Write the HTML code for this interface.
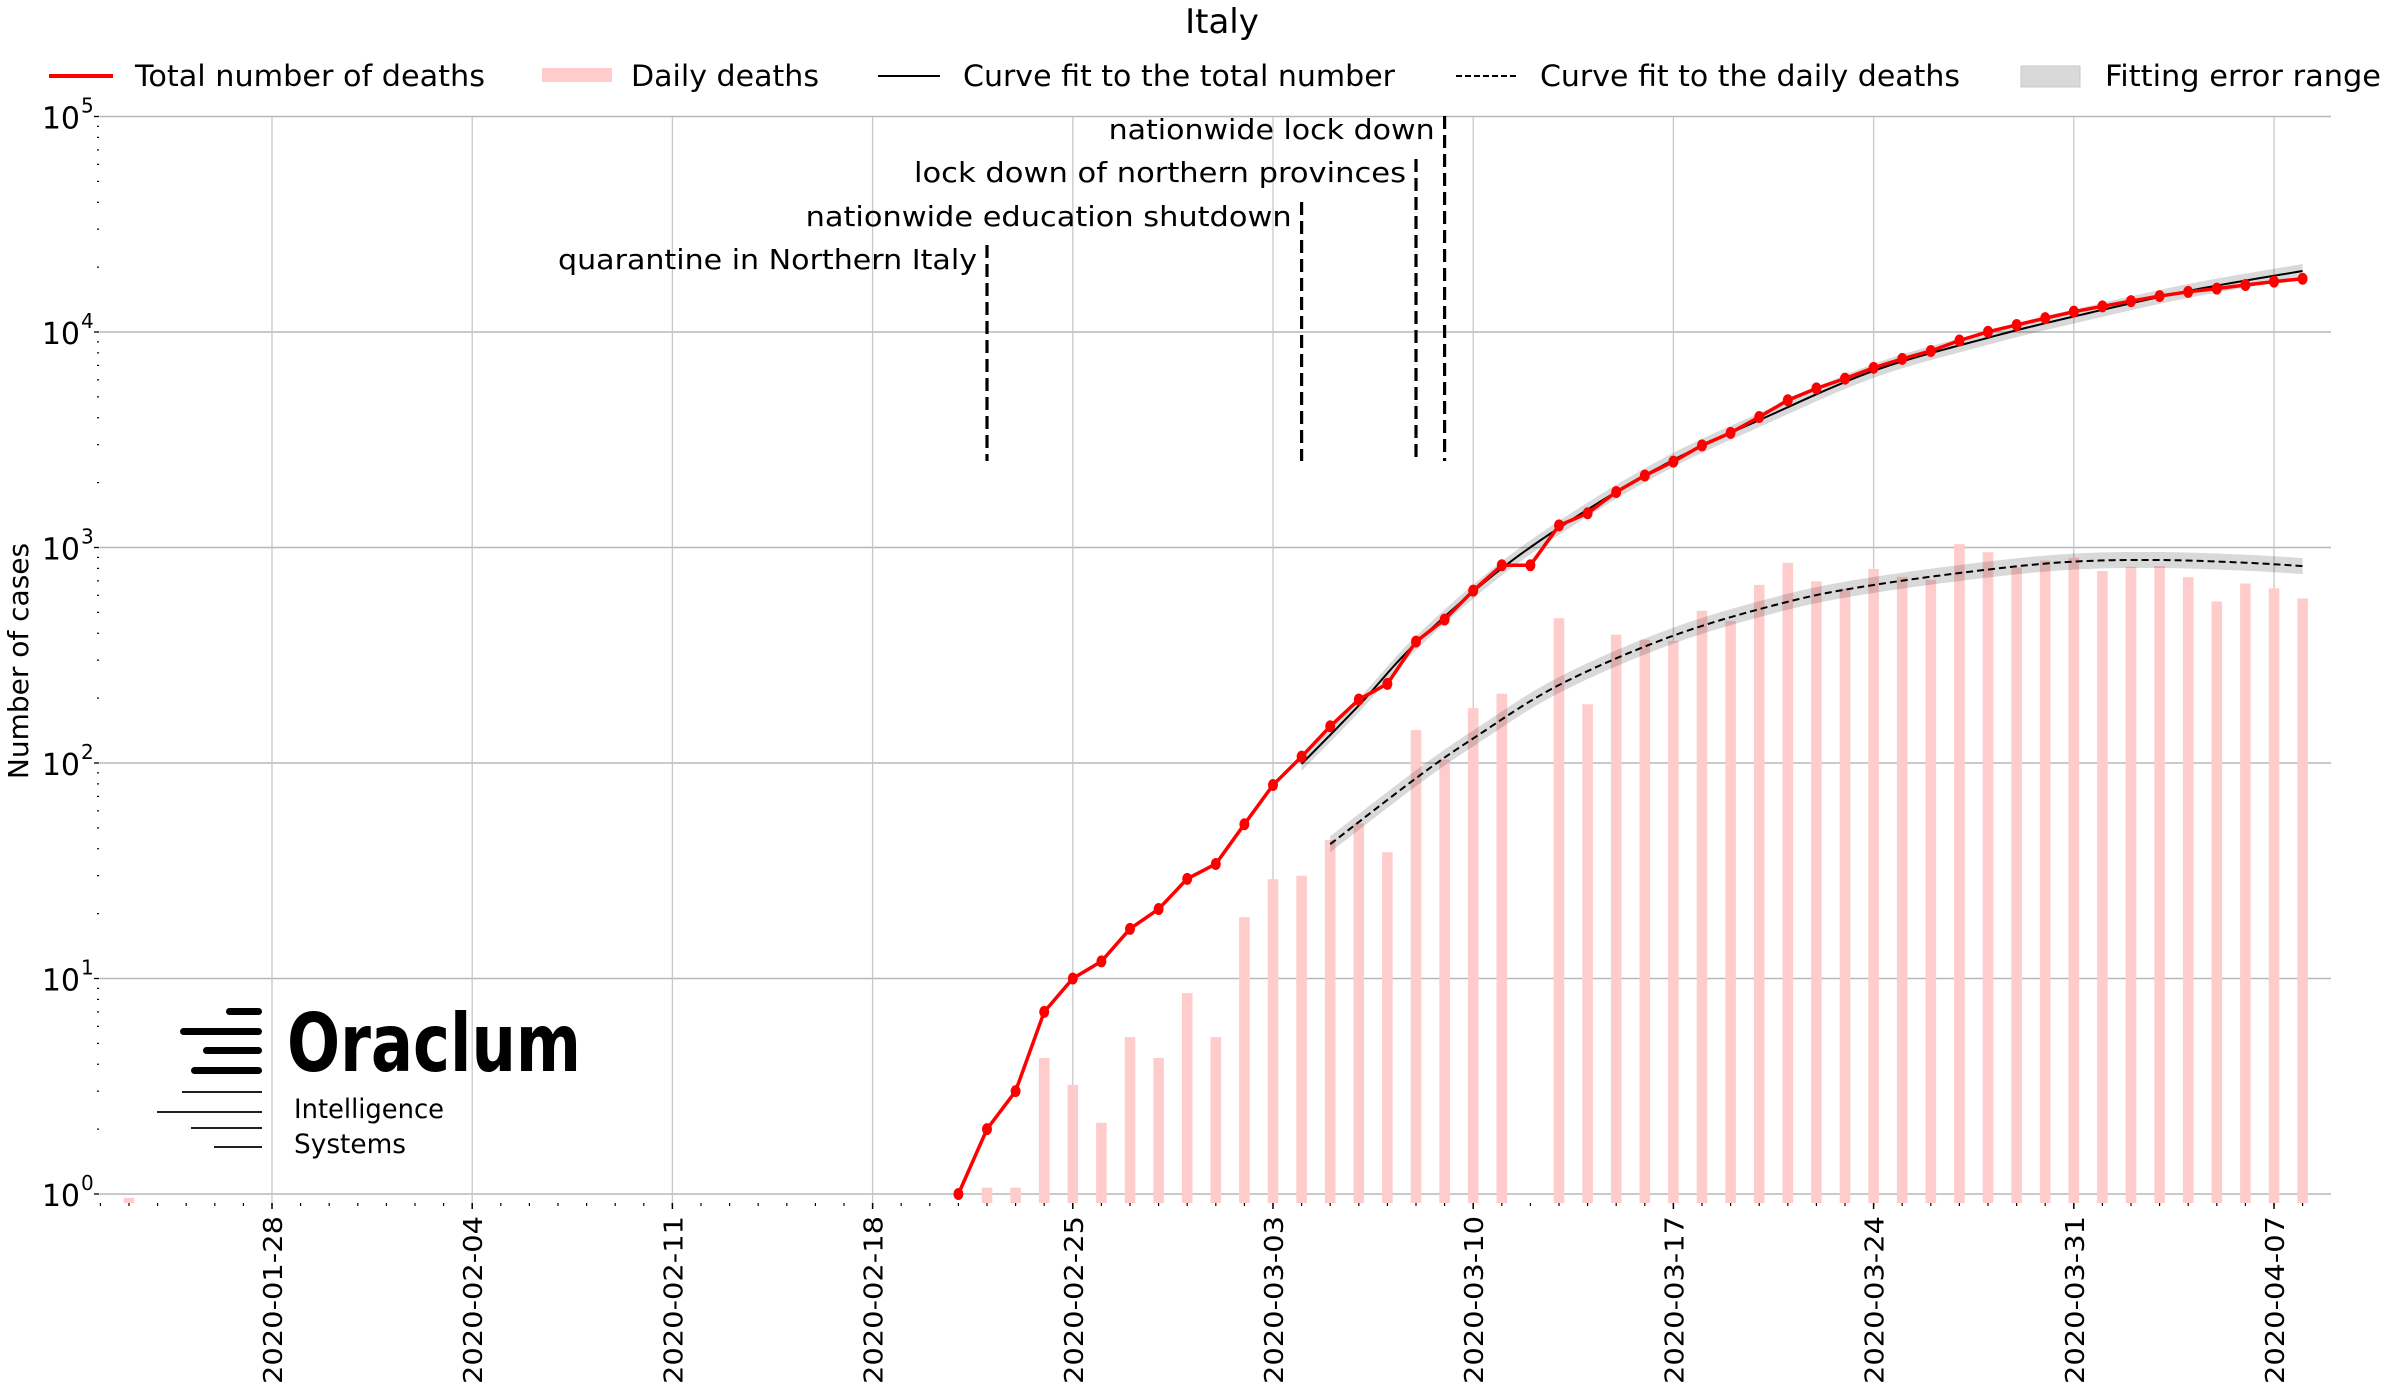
<!DOCTYPE html>
<html><head><meta charset="utf-8"><style>
html,body{margin:0;padding:0;background:#fff;}
svg{display:block;font-family:"DejaVu Sans","Liberation Sans",sans-serif;}
</style></head><body>
<svg id="s" width="2400" height="1392" xmlns="http://www.w3.org/2000/svg">
<text x="1222" y="33" font-size="34" text-anchor="middle">Italy</text>
<line x1="49" y1="76" x2="113" y2="76" stroke="#f00" stroke-width="4"/>
<text x="135" y="86" font-size="29" textLength="350" lengthAdjust="spacingAndGlyphs">Total number of deaths</text>
<rect x="542" y="68" width="70" height="14" fill="#ffcccc"/>
<text x="631" y="86" font-size="29" textLength="188" lengthAdjust="spacingAndGlyphs">Daily deaths</text>
<line x1="878" y1="76" x2="940" y2="76" stroke="#000" stroke-width="2"/>
<text x="963" y="86" font-size="29" textLength="432" lengthAdjust="spacingAndGlyphs">Curve fit to the total number</text>
<line x1="1456" y1="76" x2="1516" y2="76" stroke="#000" stroke-width="2" stroke-dasharray="6,3"/>
<text x="1540" y="86" font-size="29" textLength="420" lengthAdjust="spacingAndGlyphs">Curve fit to the daily deaths</text>
<rect x="2021" y="66" width="59" height="21" fill="#d9d9d9" stroke="#c8c8c8"/>
<text x="2105" y="86" font-size="29" textLength="276" lengthAdjust="spacingAndGlyphs">Fitting error range</text>
<g id="plot"></g>
<text transform="translate(28,661) rotate(-90)" font-size="28" text-anchor="middle">Number of cases</text>
<g id="logo">
<rect x="226" y="1008" width="36" height="7" rx="3.5" fill="#000"/>
<rect x="180" y="1028" width="82" height="7" rx="3.5" fill="#000"/>
<rect x="203" y="1047" width="59" height="7" rx="3.5" fill="#000"/>
<rect x="191" y="1067" width="71" height="7" rx="3.5" fill="#000"/>
<line x1="182" y1="1092" x2="262" y2="1092" stroke="#000" stroke-width="1.8"/>
<line x1="157" y1="1112" x2="262" y2="1112" stroke="#000" stroke-width="1.8"/>
<line x1="191" y1="1128" x2="262" y2="1128" stroke="#000" stroke-width="1.8"/>
<line x1="214" y1="1147" x2="262" y2="1147" stroke="#000" stroke-width="1.8"/>
<text x="287" y="1071" font-size="80" font-weight="bold" textLength="294" lengthAdjust="spacingAndGlyphs">Oraclum</text>
<text x="294" y="1118" font-size="27" textLength="150" lengthAdjust="spacingAndGlyphs">Intelligence</text>
<text x="294" y="1153" font-size="27" textLength="112" lengthAdjust="spacingAndGlyphs">Systems</text>
</g>
</svg>
<script>
(function(){
var g=document.getElementById("plot"),h="";
function X(d){return 272+28.6*d;}
function Y(v){return 1194-215.5*Math.log10(v);}
var L=99.5,R=2331,T=117,B=1203;
for(var e=0;e<=5;e++){var y=Y(Math.pow(10,e));h+='<line x1="'+L+'" y1="'+y+'" x2="'+R+'" y2="'+y+'" stroke="#b8b8b8" stroke-width="1.6"/>';}
var lab=["2020-01-28","2020-02-04","2020-02-11","2020-02-18","2020-02-25","2020-03-03","2020-03-10","2020-03-17","2020-03-24","2020-03-31","2020-04-07"];
for(var i=0;i<lab.length;i++){var x=X(7*i);h+='<line x1="'+x+'" y1="'+T+'" x2="'+x+'" y2="'+B+'" stroke="#c8c8c8" stroke-width="1.3"/>';
h+='<line x1="'+x+'" y1="'+B+'" x2="'+x+'" y2="'+(B+6)+'" stroke="#000" stroke-width="1.5"/>';
h+='<text transform="translate('+(x+10)+',1384) rotate(-90)" font-size="26" textLength="168" lengthAdjust="spacingAndGlyphs">'+lab[i]+'</text>';}
for(var d=-6;d<=72;d++){var x=X(d);if(x<L||x>R)continue;h+='<line x1="'+x+'" y1="'+B+'" x2="'+x+'" y2="'+(B+3)+'" stroke="#000" stroke-width="1.2"/>';}
for(var e=0;e<=5;e++){var y=Y(Math.pow(10,e));h+='<text x="80" y="'+(y+12)+'" font-size="30" text-anchor="end">10</text><text x="81" y="'+(y-4)+'" font-size="20">'+e+'</text>';
h+='<line x1="94" y1="'+y+'" x2="99" y2="'+y+'" stroke="#000" stroke-width="1.3"/>';
if(e<5)for(var k=2;k<10;k++){var yy=Y(k*Math.pow(10,e));h+='<line x1="97" y1="'+yy+'" x2="99" y2="'+yy+'" stroke="#000" stroke-width="1.2"/>';}}
var deaths=[1,2,3,7,10,12,17,21,29,34,52,79,107,148,197,233,366,463,631,827,827,1266,1441,1809,2158,2503,2978,3405,4032,4825,5476,6077,6820,7503,8165,9134,10023,10779,11591,12428,13155,13915,14681,15362,15887,16523,17127,17669];
function bar(d,v){var x=X(d)-5.3,y=Y(v);h+='<rect x="'+x+'" y="'+y+'" width="10.6" height="'+(B-y)+'" fill="#ffcccc"/>';}
bar(-5,0.96);
for(var i=1;i<deaths.length;i++){var v=deaths[i]-deaths[i-1];if(v>0)bar(24+i,v*1.07);}
function cr(pts){var out=[];for(var i=0;i<pts.length-1;i++){var p0=pts[Math.max(i-1,0)],p1=pts[i],p2=pts[i+1],p3=pts[Math.min(i+2,pts.length-1)];
for(var t=0;t<1;t+=0.05){var t2=t*t,t3=t2*t;var f=function(a,b,c,d){return 0.5*((2*b)+(-a+c)*t+(2*a-5*b+4*c-d)*t2+(-a+3*b-3*c+d)*t3);};
out.push([f(p0[0],p1[0],p2[0],p3[0]),f(p0[1],p1[1],p2[1],p3[1])]);}}out.push(pts[pts.length-1]);return out;}
function fit(ctrl,band,dash){var pts=ctrl.map(function(p){return [X(p[0]),Y(p[1])];});var c=cr(pts);
var up=c.map(function(p){return p[0]+","+(p[1]-band);}),dn=c.slice().reverse().map(function(p){return p[0]+","+(p[1]+band);});
h+='<polygon points="'+up.concat(dn).join(" ")+'" fill="#000" fill-opacity="0.15"/>';
h+='<polyline points="'+c.map(function(p){return p[0]+","+p[1];}).join(" ")+'" fill="none" stroke="#000" stroke-width="2"'+(dash?' stroke-dasharray="7,4"':'')+'/>';}
fit([[36,99],[38,185],[40,360],[43,800],[46,1500],[49,2550],[52,3900],[56,6600],[60,9400],[63,11800],[67,15500],[71,19200]],7,false);
fit([[37,42],[40,85],[42,130],[45,230],[49,390],[53,560],[56,670],[60,790],[63,860],[66,875],[69,850],[71,820]],8,true);
var rp=deaths.map(function(v,i){return X(24+i)+","+Y(v);});
h+='<polyline points="'+rp.join(" ")+'" fill="none" stroke="#f00" stroke-width="3.5"/>';
deaths.forEach(function(v,i){h+='<ellipse cx="'+X(24+i)+'" cy="'+Y(v)+'" rx="5" ry="6" fill="#f00"/>';});
var ev=[[25,245,"quarantine in Northern Italy",259],[36,202,"nationwide education shutdown",216],[40,159,"lock down of northern provinces",172],[41,116,"nationwide lock down",129]];
var tl=[419,486,492,326];
ev.forEach(function(e,i){var x=X(e[0]);h+='<line x1="'+x+'" y1="'+e[1]+'" x2="'+x+'" y2="461" stroke="#000" stroke-width="3.2" stroke-dasharray="13,6"/>';
h+='<text x="'+(x-10)+'" y="'+(e[3]+10)+'" font-size="28" text-anchor="end" textLength="'+tl[i]+'" lengthAdjust="spacingAndGlyphs">'+e[2]+'</text>';});
g.innerHTML=h;
})();
</script>
</body></html>
